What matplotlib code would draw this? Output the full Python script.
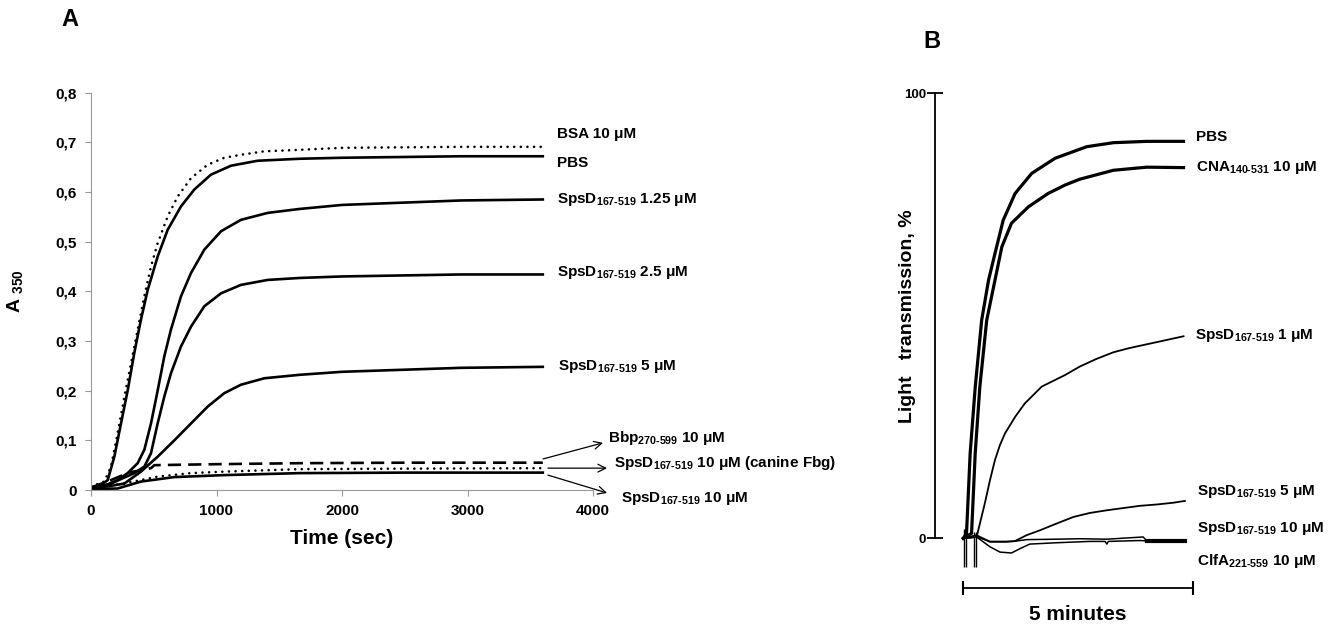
import matplotlib
matplotlib.use("Agg")
import matplotlib.pyplot as plt

plt.rcParams['font.family'] = ['Liberation Sans', 'DejaVu Sans']
plt.rcParams['font.weight'] = 'bold'
plt.rcParams['mathtext.fontset'] = 'custom'
plt.rcParams['mathtext.rm'] = 'Liberation Sans:bold'
plt.rcParams['mathtext.bf'] = 'Liberation Sans:bold'
plt.rcParams['mathtext.it'] = 'Liberation Sans:bold'

SUB = r'$_{\text{167-519}}$'

# ---- panel A: turbidity (A350) vs time (sec)
t_bsa = [0, 106, 159, 212, 266, 319, 372, 425, 478, 531, 611, 691, 797, 930, 1062, 1195, 1381, 1665, 2000, 2947, 3600]
a_bsa = [0.007, 0.017, 0.047, 0.114, 0.188, 0.255, 0.323, 0.39, 0.45, 0.497, 0.551, 0.591, 0.628, 0.655, 0.669,
         0.675, 0.682, 0.685, 0.689, 0.691, 0.691]
t_pbs = [0, 80, 133, 186, 239, 292, 345, 398, 452, 531, 611, 717, 823, 956, 1116, 1328, 1665, 2000, 2947, 3600]
a_pbs = [0.005, 0.01, 0.02, 0.067, 0.134, 0.2, 0.276, 0.343, 0.403, 0.47, 0.524, 0.571, 0.605, 0.635, 0.653,
         0.663, 0.667, 0.669, 0.672, 0.672]
t_125 = [0, 120, 212, 292, 372, 425, 478, 531, 584, 637, 717, 797, 903, 1036, 1195, 1408, 1665, 2000, 2947, 3600]
a_125 = [0.005, 0.01, 0.02, 0.034, 0.054, 0.081, 0.134, 0.2, 0.269, 0.323, 0.39, 0.437, 0.484, 0.521, 0.544,
         0.558, 0.566, 0.574, 0.583, 0.585]
t_25 = [0, 150, 345, 425, 478, 531, 584, 637, 717, 797, 903, 1036, 1195, 1408, 1665, 2000, 2947, 3600]
a_25 = [0.003, 0.012, 0.034, 0.047, 0.074, 0.134, 0.188, 0.235, 0.289, 0.329, 0.37, 0.396, 0.413, 0.423, 0.427,
        0.43, 0.434, 0.434]
t_5 = [0, 150, 266, 398, 531, 664, 797, 930, 1062, 1195, 1381, 1665, 2000, 2947, 3600]
a_5 = [0.003, 0.008, 0.013, 0.037, 0.067, 0.1, 0.134, 0.168, 0.195, 0.212, 0.225, 0.232, 0.238, 0.246, 0.248]
t_bbp = [0, 160, 300, 478, 505, 1000, 1665, 2500, 3600]
a_bbp = [0.005, 0.02, 0.035, 0.044, 0.05, 0.052, 0.054, 0.055, 0.055]
t_can = [0, 266, 398, 531, 797, 1062, 1665, 2500, 3600]
a_can = [0.005, 0.013, 0.02, 0.027, 0.034, 0.037, 0.042, 0.043, 0.044]
t_10 = [0, 212, 398, 664, 1062, 1665, 2500, 3600]
a_10 = [0.002, 0.003, 0.017, 0.026, 0.03, 0.034, 0.035, 0.035]

yticks_a = [0, 0.1, 0.2, 0.3, 0.4, 0.5, 0.6, 0.7, 0.8]
ytick_labels_a = ['0', '0,1', '0,2', '0,3', '0,4', '0,5', '0,6', '0,7', '0,8']
xticks_a = [0, 1000, 2000, 3000, 4000]

# ---- panel B: light transmission (%) vs time (min)
tb_pbs = [0.0, 0.07, 0.15, 0.26, 0.40, 0.55, 0.69, 0.87, 1.13, 1.49, 2.00, 2.69, 3.27, 4.00, 4.80]
vb_pbs = [0.0, 1.1, 19.2, 34.0, 49.0, 58.0, 64.0, 71.5, 77.5, 82.0, 85.4, 88.0, 88.9, 89.2, 89.2]
tb_cna = [0.0, 0.18, 0.26, 0.36, 0.51, 0.69, 0.84, 1.05, 1.42, 1.85, 2.22, 2.54, 3.27, 4.00, 4.80]
vb_cna = [0.0, 1.1, 19.2, 34.0, 49.0, 58.0, 65.5, 70.8, 74.5, 77.5, 79.4, 80.7, 82.7, 83.4, 83.3]
tb_1 = [0.0, 0.29, 0.47, 0.58, 0.69, 0.80, 0.91, 1.13, 1.34, 1.71, 2.22, 2.54, 2.9, 3.27, 3.6, 4.00, 4.4, 4.80]
vb_1 = [0.0, 0.3, 7.9, 13.0, 17.6, 21.0, 23.6, 27.3, 30.3, 34.1, 36.7, 38.6, 40.3, 41.8, 42.7, 43.6, 44.5, 45.4]
tb_5 = [0.0, 0.29, 0.58, 0.94, 1.13, 1.38, 1.67, 2.03, 2.40, 2.76, 3.13, 3.49, 3.85, 4.22, 4.58, 4.83]
vb_5 = [0.0, 0.7, -0.8, -0.8, -0.6, 0.7, 1.8, 3.3, 4.8, 5.7, 6.3, 6.8, 7.3, 7.6, 8.0, 8.4]
tb_10 = [0.0, 0.29, 0.58, 1.09, 1.38, 2.03, 2.54, 3.13, 3.92, 4.0, 4.83]
vb_10 = [0.0, 0.3, -0.7, -0.7, -0.3, -0.2, -0.1, -0.2, 0.3, -0.6, -0.6]
tb_clf = [0.0, 0.29, 0.58, 0.80, 1.05, 1.24, 1.45, 2.03, 2.76, 3.09, 3.13, 3.16, 3.85, 4.0]
vb_clf = [0.0, 0.3, -1.9, -3.1, -3.3, -2.3, -1.3, -1.0, -0.7, -0.7, -1.3, -0.7, -0.5, -0.6]
tb_clf_tail = [4.0, 4.83]
vb_clf_tail = [-0.6, -0.6]
# injection artefacts at the start of the traces
spike_t = [0.01, 0.05, 0.23, 0.27]
spike_lo = [-6.5, -6.5, -6.5, -6.5]
spike_hi = [2.0, 3.0, 1.5, 1.5]

fig = plt.figure(figsize=(13.31, 6.26), dpi=100)

# Panel A
axA = fig.add_axes([91 / 1331, 1 - 490 / 626, 502 / 1331, 397.3 / 626])
lw = 1.9
dots = (0, (0.01, 2.5))
axA.plot(t_bsa, a_bsa, color='black', lw=lw, ls=dots, dash_capstyle='round')
axA.plot(t_pbs, a_pbs, color='black', lw=lw)
axA.plot(t_125, a_125, color='black', lw=lw)
axA.plot(t_25, a_25, color='black', lw=lw)
axA.plot(t_5, a_5, color='black', lw=lw)
axA.plot(t_bbp, a_bbp, color='black', lw=lw, ls=(0, (5, 2.7)))
axA.plot(t_can, a_can, color='black', lw=lw, ls=dots, dash_capstyle='round')
axA.plot(t_10, a_10, color='black', lw=lw)

axA.set_xlim(0, 4000)
axA.set_ylim(0, 0.8)
axA.set_xticks(xticks_a)
axA.set_yticks(yticks_a)
axA.set_yticklabels(ytick_labels_a)
for s in ['top', 'right']:
    axA.spines[s].set_visible(False)
for s in ['left', 'bottom']:
    axA.spines[s].set_color('#999999')
axA.tick_params(colors='#999999', labelcolor='black', labelsize=11, length=4, pad=6)
for lab in axA.get_xticklabels() + axA.get_yticklabels():
    lab.set_fontweight('bold')
axA.set_xlabel('Time (sec)', fontsize=15, fontweight='bold', labelpad=8)
axA.set_ylabel(r'A $_{350}$', fontsize=14, fontweight='bold', labelpad=22)

la = dict(fontsize=11, fontweight='bold', va='center', ha='left')
axA.text(3713, 0.716, 'BSA 10 μM', **la)
axA.text(3713, 0.659, 'PBS', **la)
axA.text(3713, 0.584, 'SpsD' + SUB + ' 1.25 μM', **la)
axA.text(3713, 0.437, 'SpsD' + SUB + ' 2.5 μM', **la)
axA.text(3720, 0.248, 'SpsD' + SUB + ' 5 μM', **la)
axA.text(4120, 0.105, 'Bbp' + r'$_{\text{270-599}}$' + ' 10 μM', **la)
axA.text(4170, 0.054, 'SpsD' + SUB + ' 10 μM (canine Fbg)', **la)
axA.text(4225, -0.018, 'SpsD' + SUB + ' 10 μM', **la)
arr = dict(arrowstyle='->', color='black', lw=0.9, mutation_scale=14, shrinkA=0, shrinkB=0)
axA.annotate('', xy=(4080, 0.095), xytext=(3602, 0.0625), arrowprops=arr, annotation_clip=False)
axA.annotate('', xy=(4112, 0.044), xytext=(3641, 0.044), arrowprops=arr, annotation_clip=False)
axA.annotate('', xy=(4112, -0.006), xytext=(3641, 0.030), arrowprops=arr, annotation_clip=False)

fig.text(70 / 1331, 1 - 19 / 626, 'A', fontsize=17, fontweight='bold', ha='center', va='center')
fig.text(932 / 1331, 1 - 41 / 626, 'B', fontsize=17, fontweight='bold', ha='center', va='center')

# Panel B
axB = fig.add_axes([935 / 1331, 1 - 538.3 / 626, 257.7 / 1331, 445 / 626])
axB.set_xlim(-0.617, 5.0)
axB.set_ylim(0, 100)
for s in ['top', 'right', 'bottom']:
    axB.spines[s].set_visible(False)
axB.spines['left'].set_linewidth(1.3)
axB.set_xticks([])
axB.set_yticks([0, 100])
axB.set_yticklabels(['0', '100'])
axB.tick_params(axis='y', direction='inout', length=11, width=1.3, labelsize=9.5, pad=1)
for lab in axB.get_yticklabels():
    lab.set_fontweight('bold')

axB.vlines(spike_t, spike_lo, spike_hi, color='black', lw=1.0, clip_on=False)
axB.plot(tb_pbs, vb_pbs, color='black', lw=2.3, clip_on=False)
axB.plot(tb_cna, vb_cna, color='black', lw=2.3, clip_on=False)
axB.plot(tb_1, vb_1, color='black', lw=1.3, clip_on=False)
axB.plot(tb_5, vb_5, color='black', lw=1.3, clip_on=False)
axB.plot(tb_10, vb_10, color='black', lw=1.1, clip_on=False)
axB.plot(tb_clf, vb_clf, color='black', lw=1.1, clip_on=False)
axB.plot(tb_clf_tail, vb_clf_tail, color='black', lw=3.0, clip_on=False)

axB.set_ylabel('Light   transmission, %', fontsize=14, fontweight='bold')
axB.yaxis.set_label_coords(-0.074, 0.5)

lb = dict(fontsize=11, fontweight='bold', va='center', ha='left', clip_on=False)
axB.text(5.07, 90.1, 'PBS', **lb)
axB.text(5.07, 83.3, 'CNA' + r'$_{\text{140-531}}$' + ' 10 μM', **lb)
axB.text(5.05, 45.5, 'SpsD' + SUB + ' 1 μM', **lb)
axB.text(5.09, 10.5, 'SpsD' + SUB + ' 5 μM', **lb)
axB.text(5.09, 2.1, 'SpsD' + SUB + ' 10 μM', **lb)
axB.text(5.09, -5.2, 'ClfA' + r'$_{\text{221-559}}$' + ' 10 μM', **lb)

# 5-minute scale bar
axB.plot([0, 5], [-11.2, -11.2], color='black', lw=1.3, marker='|', markersize=10, mew=1.5, clip_on=False)
axB.text(2.5, -17.2, '5 minutes', fontsize=15, fontweight='bold', ha='center', va='center')

fig.savefig('out.png', dpi=100)
